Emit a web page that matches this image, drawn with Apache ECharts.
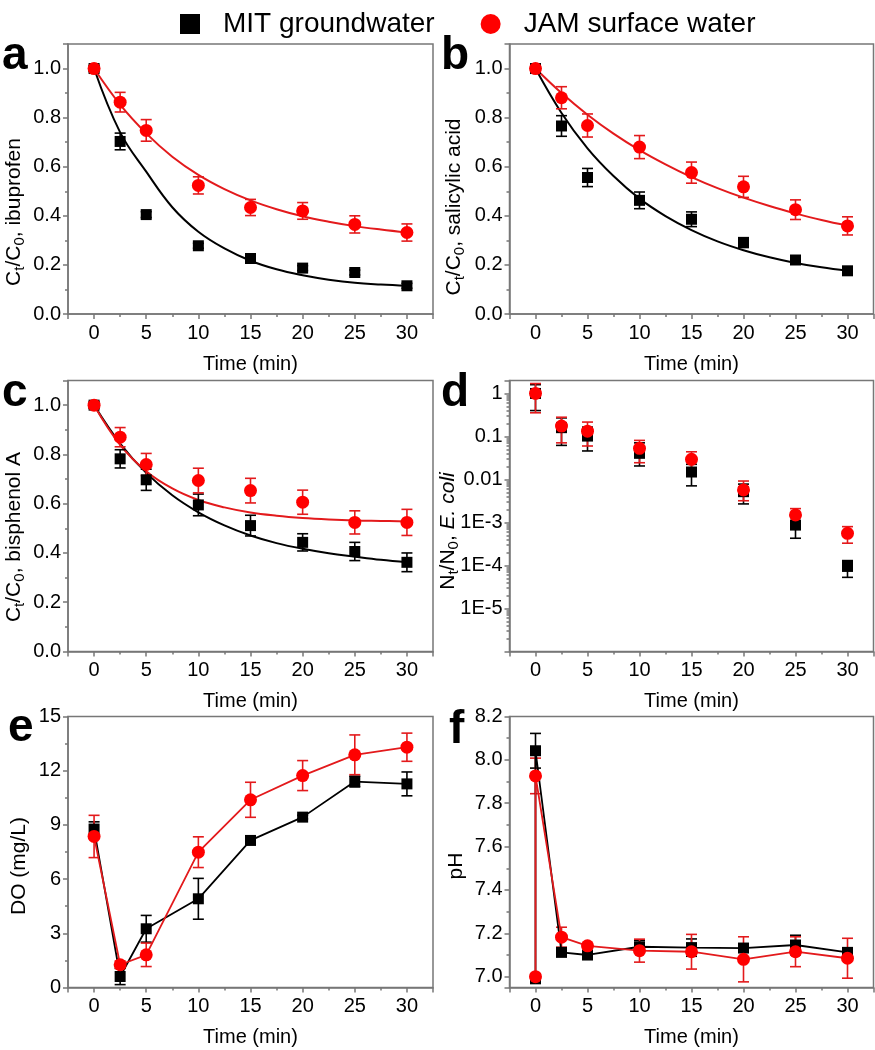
<!DOCTYPE html>
<html>
<head>
<meta charset="utf-8">
<script src="https://cdn.jsdelivr.net/npm/echarts@6/dist/echarts.min.js"></script>
<style>
html,body{margin:0;padding:0;background:#fff;}
#chart{width:875px;height:1050px;}
</style>
</head>
<body>
<div id="chart"></div>
<script>
// ---------- DATA ----------
const seriesNames = ['MIT groundwater', 'JAM surface water'];
const times = [0, 2.5, 5, 10, 15, 20, 25, 30];
const fitTimes = [0, 2.5, 5, 7.5, 10, 12.5, 15, 17.5, 20, 22.5, 25, 27.5, 30];
const xTickLabels = ['0', '5', '10', '15', '20', '25', '30'];

// (a) ibuprofen
const ibuMIT = [1.0, 0.703, 0.405, 0.278, 0.226, 0.187, 0.169, 0.115];
const ibuMITerr = [0.012, 0.034, 0.012, 0.01, 0.012, 0.01, 0.01, 0.01];
const ibuJAM = [1.0, 0.863, 0.748, 0.524, 0.434, 0.42, 0.365, 0.332];
const ibuJAMerr = [0.01, 0.04, 0.044, 0.035, 0.033, 0.034, 0.035, 0.035];
const ibuMITfit = [1.0, 0.74, 0.58, 0.435, 0.335, 0.267, 0.217, 0.182, 0.158, 0.14, 0.127, 0.12, 0.115];
const ibuJAMfit = [1.0, 0.853, 0.736, 0.641, 0.567, 0.509, 0.463, 0.427, 0.398, 0.376, 0.358, 0.344, 0.332];

// (b) salicylic acid
const salMIT = [1.0, 0.766, 0.556, 0.463, 0.386, 0.291, 0.22, 0.176];
const salMITerr = [0.012, 0.042, 0.037, 0.034, 0.03, 0.02, 0.012, 0.01];
const salJAM = [1.0, 0.881, 0.768, 0.68, 0.576, 0.518, 0.425, 0.359];
const salJAMerr = [0.012, 0.045, 0.047, 0.047, 0.043, 0.043, 0.04, 0.037];
const salMITfit = [1.0, 0.819, 0.675, 0.562, 0.47, 0.399, 0.342, 0.296, 0.26, 0.231, 0.208, 0.19, 0.176];
const salJAMfit = [1.0, 0.9, 0.812, 0.735, 0.668, 0.61, 0.558, 0.513, 0.474, 0.44, 0.41, 0.383, 0.36];

// (c) bisphenol A
const bpaMIT = [1.0, 0.782, 0.697, 0.595, 0.511, 0.443, 0.406, 0.362];
const bpaMITerr = [0.012, 0.037, 0.043, 0.044, 0.042, 0.035, 0.037, 0.038];
const bpaJAM = [1.0, 0.87, 0.759, 0.694, 0.653, 0.606, 0.524, 0.524];
const bpaJAMerr = [0.012, 0.039, 0.045, 0.05, 0.05, 0.049, 0.047, 0.053];
const bpaMITfit = [1.0, 0.844, 0.725, 0.634, 0.565, 0.512, 0.471, 0.44, 0.417, 0.399, 0.385, 0.372, 0.362];
const bpaJAMfit = [1.0, 0.839, 0.732, 0.662, 0.615, 0.585, 0.564, 0.551, 0.542, 0.536, 0.532, 0.53, 0.528];

// (d) E. coli (log)
const ecoMIT = [1.0, 0.16, 0.102, 0.0405, 0.0149, 0.0052, 0.00087, 0.000095];
const ecoMITlow = [0.4, 0.062, 0.046, 0.0206, 0.0071, 0.0027, 0.00043, 0.000053];
const ecoMIThigh = [1.6, 0.27, 0.165, 0.071, 0.0225, 0.0078, 0.0013, 0.00013];
const ecoJAM = [1.0, 0.174, 0.133, 0.053, 0.0294, 0.0057, 0.0015, 0.00056];
const ecoJAMlow = [0.355, 0.071, 0.06, 0.0245, 0.0144, 0.0032, 0.00079, 0.00033];
const ecoJAMhigh = [1.7, 0.28, 0.216, 0.081, 0.044, 0.0092, 0.0021, 0.0008];
const logTickLabels = {'0': '1', '-1': '0.1', '-2': '0.01', '-3': '1E-3', '-4': '1E-4', '-5': '1E-5'};

// (e) DO
const doMIT = [8.77, 0.61, 3.25, 4.91, 8.14, 9.43, 11.4, 11.27];
const doMITerr = [0.4, 0.45, 0.74, 1.13, 0.2, 0.1, 0.3, 0.66];
const doJAM = [8.36, 1.26, 1.81, 7.49, 10.39, 11.73, 12.88, 13.3];
const doJAMerr = [1.17, 0.2, 0.65, 0.85, 0.97, 0.83, 1.1, 0.78];

// (f) pH
const phTimes = [0, 0, 2.5, 5, 10, 15, 20, 25, 30];
const phMIT = [6.99, 8.042, 7.112, 7.10, 7.138, 7.134, 7.132, 7.146, 7.112];
const phMITerr = [0.005, 0.08, 0.01, 0.02, 0.03, 0.04, 0.012, 0.045, 0.02];
const phJAM = [7.0, 7.926, 7.182, 7.142, 7.12, 7.115, 7.08, 7.115, 7.085];
const phJAMerr = [0.005, 0.082, 0.046, 0.01, 0.053, 0.08, 0.104, 0.069, 0.092];

// ---------- STYLE ----------
const FONT = 'Liberation Sans, Arial, Helvetica, sans-serif';
const BLACK = '#000000';
const RED = '#ff0000';
const REDLINE = '#e31a1c';
const AXIS = '#777777';

function pts(xs, ys) { return xs.map((x, i) => [x, ys[i]]); }
function errSym(xs, ys, e) { return xs.map((x, i) => [x, ys[i] - e[i], ys[i] + e[i]]); }
function errLH(xs, lo, hi) { return xs.map((x, i) => [x, lo[i], hi[i]]); }

function errRender(color) {
  return function (params, api) {
    const x = api.value(0), lo = api.value(1), hi = api.value(2);
    const p1 = api.coord([x, hi]);
    const p2 = api.coord([x, lo]);
    const w = 5.5;
    const st = { stroke: color, lineWidth: 1.6 };
    return {
      type: 'group',
      children: [
        { type: 'line', shape: { x1: p1[0], y1: p1[1], x2: p2[0], y2: p2[1] }, style: st },
        { type: 'line', shape: { x1: p1[0] - w, y1: p1[1], x2: p1[0] + w, y2: p1[1] }, style: st },
        { type: 'line', shape: { x1: p2[0] - w, y1: p2[1], x2: p2[0] + w, y2: p2[1] }, style: st }
      ]
    };
  };
}

const grids = [
  { left: 68, top: 44, width: 365, height: 270 },
  { left: 509.5, top: 44, width: 364, height: 270 },
  { left: 68, top: 380.5, width: 365, height: 271 },
  { left: 509.5, top: 380.5, width: 364, height: 271 },
  { left: 68, top: 716.5, width: 365, height: 271 },
  { left: 509.5, top: 716.5, width: 364, height: 271 }
].map(g => Object.assign({ show: true, borderColor: AXIS, borderWidth: 1.5, backgroundColor: 'transparent' }, g));

const lineSt = { color: AXIS, width: 1.5 };

const xAxes = grids.map((g, i) => ({
  type: 'value', gridIndex: i, min: -2.5, max: 32.5,
  minInterval: 5, maxInterval: 5, splitNumber: 7,
  axisLine: { show: true, onZero: false, lineStyle: lineSt },
  axisTick: { show: true, inside: false, length: 5, lineStyle: lineSt },
  minorTick: { show: true, splitNumber: 2, length: 3, lineStyle: lineSt },
  splitLine: { show: false },
  axisLabel: {
    fontSize: 20, color: '#000', fontFamily: FONT, margin: 9,
    showMinLabel: false, showMaxLabel: false,
    formatter: v => { const k = Math.round(v / 5); return Math.abs(v - k * 5) < 1e-6 && xTickLabels[k] !== undefined ? xTickLabels[k] : ''; }
  },
  name: 'Time (min)', nameLocation: 'middle', nameGap: 40,
  nameTextStyle: { fontSize: 20, color: '#000', fontFamily: FONT }
}));

function yBase(i) {
  return {
    type: 'value', gridIndex: i,
    axisLine: { show: true, onZero: false, lineStyle: lineSt },
    axisTick: { show: true, inside: false, length: 5, lineStyle: lineSt },
    minorTick: { show: true, splitNumber: 2, length: 3, lineStyle: lineSt },
    splitLine: { show: false },
    axisLabel: { fontSize: 20, color: '#000', fontFamily: FONT, margin: 7 }
  };
}
const yAxes = [];
for (let i = 0; i < 3; i++) {
  const y = yBase(i);
  Object.assign(y, { min: 0, max: 1.1, interval: 0.2 });
  y.axisLabel.showMaxLabel = false;
  y.axisLabel.formatter = v => (v > 1.05 ? '' : v.toFixed(1));
  yAxes.push(y);
}
{
  const y = yBase(3);
  Object.assign(y, { type: 'log', logBase: 10, min: 1e-6, max: 2 });
  y.minorTick.splitNumber = 9;
  y.minorTick.length = 3;
  y.axisLabel.showMinLabel = false;
  y.axisLabel.showMaxLabel = false;
  y.axisLabel.formatter = v => {
    const l = Math.log10(v); const k = Math.round(l);
    if (Math.abs(l - k) > 0.01) return '';
    return logTickLabels[String(k)] || '';
  };
  yAxes.push(y);
}
{
  const y = yBase(4);
  Object.assign(y, { min: 0, max: 15, interval: 3 });
  y.axisLabel.formatter = v => String(Math.round(v));
  yAxes.push(y);
}
{
  const y = yBase(5);
  Object.assign(y, { min: 6.95, max: 8.2, minInterval: 0.2, maxInterval: 0.2, splitNumber: 6 });
  y.axisLabel.showMinLabel = false;
  y.axisLabel.formatter = v => { const k = Math.round(v * 5); return Math.abs(v * 5 - k) < 1e-6 ? v.toFixed(1) : ''; };
  yAxes.push(y);
}

const series = [];
function fitLine(i, data, color) {
  series.push({ type: 'line', name: 'fit' + i + color, xAxisIndex: i, yAxisIndex: i, data: data, smooth: 0.4,
    symbol: 'none', lineStyle: { color: color, width: 2 }, z: 2, silent: true });
}
function errSeries(i, data, color) {
  series.push({ type: 'custom', name: 'err' + i + color, xAxisIndex: i, yAxisIndex: i, data: data,
    renderItem: errRender(color), encode: { x: 0, y: [1, 2] }, z: 3, silent: true });
}
function markers(i, data, name, isLine) {
  const black = name === seriesNames[0];
  const s = {
    type: isLine ? 'line' : 'scatter', name: name, xAxisIndex: i, yAxisIndex: i, data: data,
    symbol: black ? 'rect' : 'circle', symbolSize: black ? 11 : 13,
    itemStyle: { color: black ? BLACK : RED, opacity: 1 }, z: 4
  };
  if (isLine) { s.lineStyle = { color: black ? BLACK : REDLINE, width: 1.8 }; s.showSymbol = true; }
  series.push(s);
}

const fitted = [
  [ibuMIT, ibuMITerr, ibuJAM, ibuJAMerr, ibuMITfit, ibuJAMfit],
  [salMIT, salMITerr, salJAM, salJAMerr, salMITfit, salJAMfit],
  [bpaMIT, bpaMITerr, bpaJAM, bpaJAMerr, bpaMITfit, bpaJAMfit]
];
fitted.forEach((p, i) => {
  fitLine(i, pts(fitTimes, p[4]), BLACK);
  fitLine(i, pts(fitTimes, p[5]), REDLINE);
  errSeries(i, errSym(times, p[0], p[1]), BLACK);
  markers(i, pts(times, p[0]), seriesNames[0], false);
  errSeries(i, errSym(times, p[2], p[3]), REDLINE);
  markers(i, pts(times, p[2]), seriesNames[1], false);
});
// d
errSeries(3, errLH(times, ecoMITlow, ecoMIThigh), BLACK);
markers(3, pts(times, ecoMIT), seriesNames[0], false);
errSeries(3, errLH(times, ecoJAMlow, ecoJAMhigh), REDLINE);
markers(3, pts(times, ecoJAM), seriesNames[1], false);
// e
errSeries(4, errSym(times, doMIT, doMITerr), BLACK);
markers(4, pts(times, doMIT), seriesNames[0], true);
errSeries(4, errSym(times, doJAM, doJAMerr), REDLINE);
markers(4, pts(times, doJAM), seriesNames[1], true);
// f
errSeries(5, errSym(phTimes, phMIT, phMITerr), BLACK);
markers(5, pts(phTimes, phMIT), seriesNames[0], true);
errSeries(5, errSym(phTimes, phJAM, phJAMerr), REDLINE);
markers(5, pts(phTimes, phJAM), seriesNames[1], true);

// ---------- TEXT (axis titles, panel letters) ----------
const richBase = {
  n: { fontSize: 21, fontFamily: FONT, color: '#000', lineHeight: 27 },
  i: { fontSize: 21, fontFamily: FONT, color: '#000', lineHeight: 27, fontStyle: 'italic' },
  s: { fontSize: 15, fontFamily: FONT, color: '#000', lineHeight: 15, verticalAlign: 'bottom' }
};
const yTitles = [
  { text: '{n|C}{s|t}{n|/C}{s|0}{n|, ibuprofen}', x: 14, y: 212 },
  { text: '{n|C}{s|t}{n|/C}{s|0}{n|, salicylic acid}', x: 454, y: 207 },
  { text: '{n|C}{s|t}{n|/C}{s|0}{n|, bisphenol A}', x: 14, y: 537 },
  { text: '{n|N}{s|t}{n|/N}{s|0}{n|, }{i|E. coli}', x: 448, y: 531 },
  { text: '{n|DO (mg/L)}', x: 19, y: 866 },
  { text: '{n|pH}', x: 456, y: 866 }
];
const panelLetters = [
  { t: 'a', x: 2, y: 56 }, { t: 'b', x: 441, y: 56 },
  { t: 'c', x: 2, y: 393 }, { t: 'd', x: 441, y: 393 },
  { t: 'e', x: 8, y: 728 }, { t: 'f', x: 449, y: 730 }
];
const graphics = [];
yTitles.forEach(t => graphics.push({
  type: 'text', x: t.x, y: t.y, rotation: Math.PI / 2, silent: true,
  style: { text: t.text, rich: richBase, align: 'center', verticalAlign: 'middle' }
}));
panelLetters.forEach(p => graphics.push({
  type: 'text', x: p.x, y: p.y, silent: true,
  style: { text: p.t, fontSize: 46, fontWeight: 'bold', fontFamily: FONT, fill: '#000', align: 'left', verticalAlign: 'middle' }
}));

const chart = echarts.init(document.getElementById('chart'), null, { renderer: 'canvas' });
chart.setOption({
  animation: false,
  backgroundColor: '#fff',
  textStyle: { fontFamily: FONT },
  legend: {
    data: [{ name: seriesNames[0], icon: 'rect' }, { name: seriesNames[1], icon: 'circle' }],
    left: 175, top: 5, itemWidth: 20, itemHeight: 20, itemGap: 46,
    selectedMode: false,
    textStyle: { fontSize: 28, color: '#000', fontFamily: FONT, padding: [0, 0, 0, 18] }
  },
  grid: grids,
  xAxis: xAxes,
  yAxis: yAxes,
  series: series,
  graphic: graphics
});
</script>
</body>
</html>
